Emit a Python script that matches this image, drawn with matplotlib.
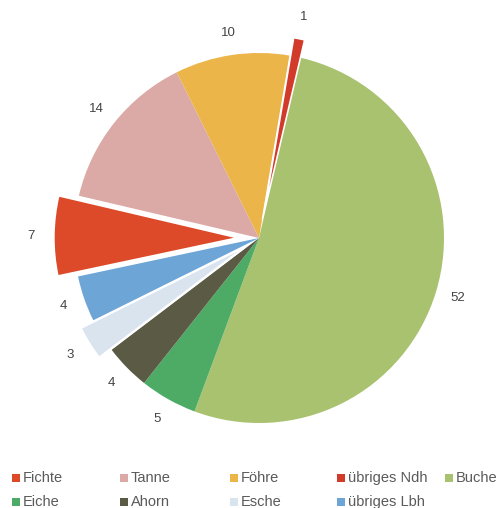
import matplotlib.pyplot as plt
from matplotlib.patches import Rectangle

plt.rcParams['font.family'] = ['Liberation Sans', 'DejaVu Sans']

# data (shares in %)
species = ['Fichte', 'Tanne', 'Föhre', 'übriges Ndh', 'Buche',
           'Eiche', 'Ahorn', 'Esche', 'übriges Lbh']
shares = [7, 14, 10, 1, 52, 5, 4, 3, 4]
colors = ['#dd4a2a', '#dcaaa6', '#ebb54a', '#d23a2a', '#a9c26f',
          '#4dab66', '#5b5a45', '#d9e4ef', '#6da5d6']
explode = [0.11, 0, 0, 0.1, 0, 0, 0, 0.08, 0]

fig = plt.figure(figsize=(5.01, 5.08), dpi=100)
W, H = 501, 508
cx, cy, r = 259, 238, 185
L = 1.35
side = 2 * L * r
ax = fig.add_axes([(cx - side / 2) / W, (H - cy - side / 2) / H, side / W, side / H])

wedges, texts = ax.pie(shares, labels=[str(v) for v in shares], colors=colors,
                       explode=explode, startangle=192, counterclock=False,
                       labeldistance=1.12,
                       textprops=dict(fontsize=9.5, color='#444444'))
for t in texts:
    t.set_ha('center')
    t.set_va('center')
for w, e in zip(wedges, explode):
    if e > 0:
        w.set_edgecolor('white')
        w.set_linewidth(1.5)
    else:
        w.set_linewidth(0)
ax.set_xlim(-L, L)
ax.set_ylim(-L, L)
ax.set_aspect('equal')
ax.axis('off')

# legend as a fixed grid (5 per row)
col_x = [12, 120, 230, 337, 445]
row_y = [478, 502]
for i, (name, c) in enumerate(zip(species, colors)):
    x = col_x[i % 5]
    y = row_y[i // 5]
    fig.patches.append(Rectangle((x / W, (H - y - 4) / H), 8 / W, 8 / H,
                                 transform=fig.transFigure, color=c, lw=0))
    fig.text((x + 11) / W, (H - y) / H, name, fontsize=10.5, color='#5a5a5a',
             va='center', ha='left')

fig.savefig('out.png', dpi=100)
